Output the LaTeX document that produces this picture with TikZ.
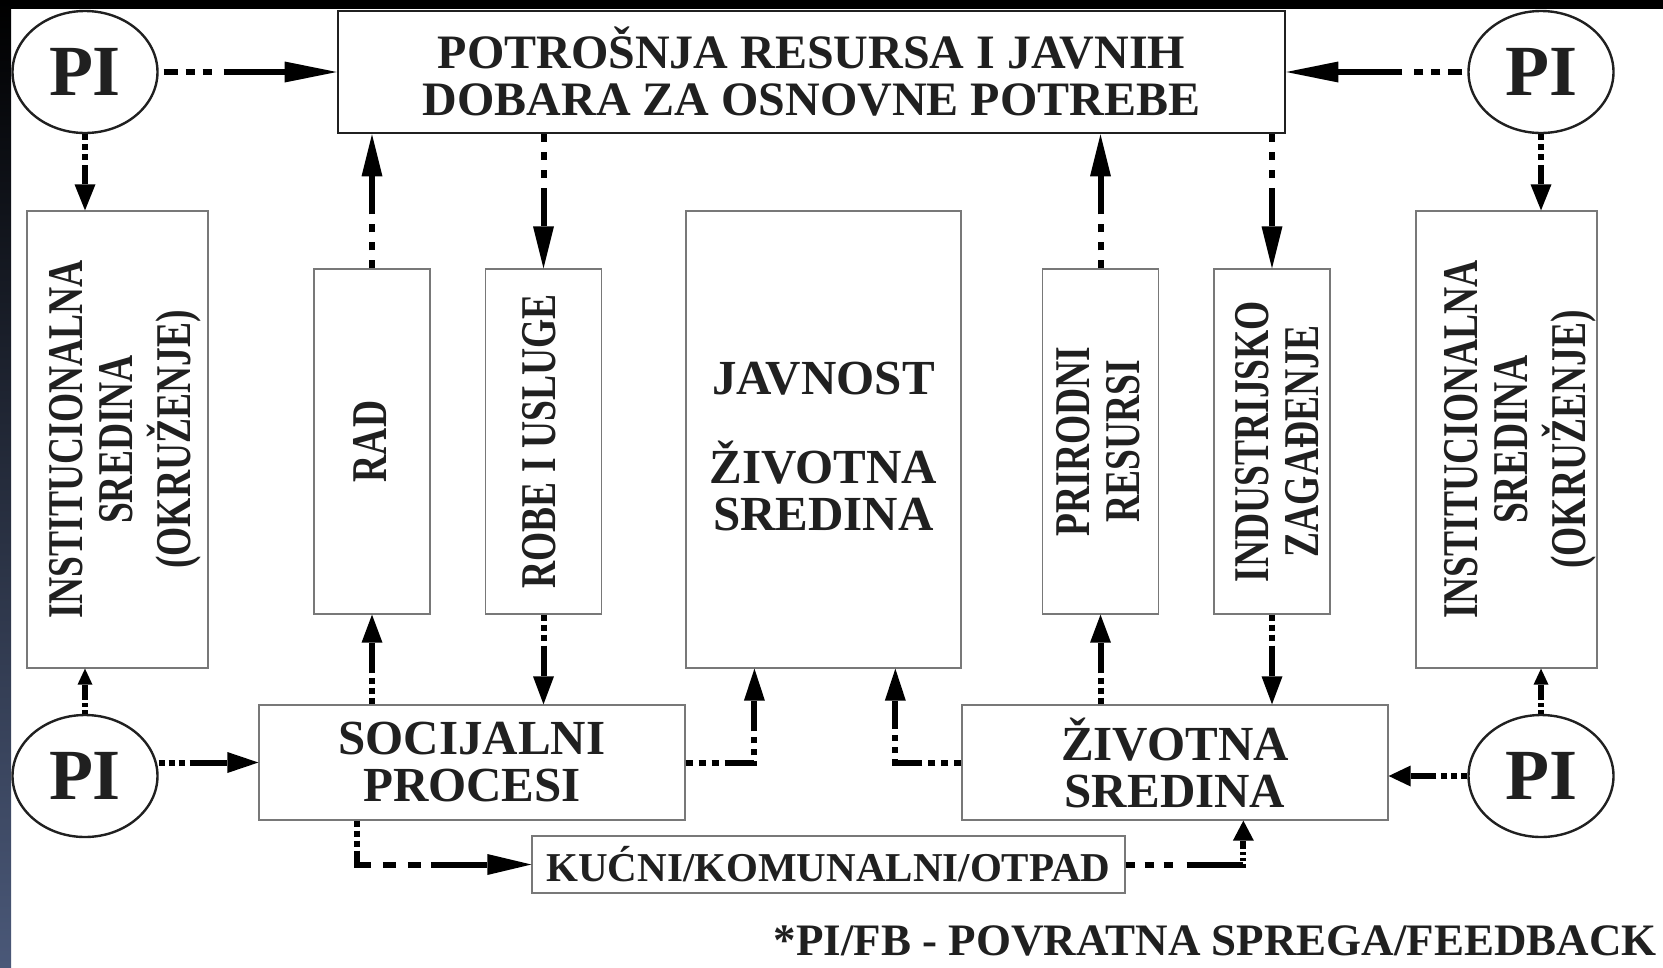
\documentclass[tikz,border=0pt]{standalone}
\usepackage{fontspec}
\setmainfont{Liberation Serif}
\usepackage{graphicx}
\usetikzlibrary{arrows.meta, shapes.geometric, calc}
\definecolor{ink}{RGB}{32, 32, 32}
\definecolor{boxline}{RGB}{120, 120, 120}
\definecolor{slate}{RGB}{74, 88, 120}

% rotated multi-line label, #1 = shift to the right in the picture
\newcommand{\vlabel}[2][6pt]{\rotatebox{90}{\raisebox{-#1}[\height][\depth]{%
  \scalebox{0.75}[1]{\begin{tabular}{@{}c@{}}#2\end{tabular}}}}}

\begin{document}
\begin{tikzpicture}[x=1pt, y=-1pt,
    every node/.style={inner sep=0pt, text=ink},
    box/.style args={#1x#2}{draw=boxline, line width=1.3pt, minimum width=#1pt, minimum height=#2pt},
    htext/.style={align=center, font=\bfseries\fontsize{49}{47}\selectfont},
    vtext/.style={font=\bfseries\fontsize{50}{50}\selectfont},
    pinode/.style={ellipse, draw=ink, line width=2.4pt, minimum width=145pt, minimum height=122pt,
      font=\bfseries\fontsize{72}{72}\selectfont},
    flow/.style={draw=black, line width=6pt, -{Triangle[length=#1, width=21pt, line width=0pt]}},
    flow/.default=28pt,
    stub/.style={dash pattern=on 4pt off 3pt on 4pt off 3pt on 2000pt,
      -{Triangle[length=16pt, width=15pt, line width=0pt]}},
    dotty/.style={dash pattern=on 6pt off 4pt on 6pt off 4pt on 6pt off 5pt on 2000pt},
    squary/.style={dash pattern=on 8pt off 10pt on 8pt off 10pt on 8pt off 10pt on 2000pt},
    dashy/.style={dash pattern=on 0pt off 5pt on 14pt off 8pt on 9pt off 8pt on 9pt off 12pt on 2000pt},
    elbow/.style={dash pattern=on 7pt off 6pt on 7pt off 6pt on 7pt off 6pt on 31pt
      off 6pt on 6pt off 6pt on 6pt off 6pt on 2000pt},
    wastein/.style={dash pattern=on 6pt off 4pt on 6pt off 4pt on 6pt off 4pt on 28pt
      off 12pt on 13pt off 12pt on 13pt off 10pt on 2000pt},
    wasteout/.style={dash pattern=on 9pt off 10pt on 9pt off 10pt on 9pt off 14pt on 57pt
      off 3pt on 3pt off 3pt on 3pt off 3pt on 2000pt},
  ]
  % frame of the slide
  \fill[white] (0,0) rectangle (1663,967);
  \fill[black] (0,0) rectangle (1663,8.5);
  \shade[top color=black, middle color=black, bottom color=slate] (0,0) rectangle (11,967);
  \useasboundingbox (0,0) rectangle (1663,967);

  \node[box=947x122, draw=ink, line width=2.6pt, htext, font=\bfseries\fontsize{48}{47}\selectfont]
    (potrosnja) at (811.5,72) {POTROŠNJA RESURSA I JAVNIH\\DOBARA ZA OSNOVNE POTREBE};

  \node[pinode] (pi-tl) at (85,72) {PI};
  \node[pinode] (pi-tr) at (1541,72) {PI};
  \node[pinode] (pi-bl) at (85,776) {PI};
  \node[pinode] (pi-br) at (1541,776) {PI};

  \node[box=181x457, vtext] (inst-l) at (117.5,439.5) {\vlabel[9pt]{INSTITUCIONALNA\\SREDINA\\(OKRUŽENJE)}};
  \node[box=116x345, vtext] (rad) at (372,441.5) {\vlabel[4pt]{RAD}};
  \node[box=116x345, vtext] (robe) at (543.5,441.5) {\vlabel[2pt]{ROBE I USLUGE}};
  \node[box=275x457, htext] (javnost) at (823.5,439.5) {\rule{0pt}{47pt}JAVNOST\\[42pt]ŽIVOTNA\\SREDINA};
  \node[box=116x345, vtext] (prirodni) at (1100.5,441.5) {\vlabel[4pt]{PRIRODNI\\RESURSI}};
  \node[box=116x345, vtext] (industrija) at (1272,441.5) {\vlabel[11pt]{INDUSTRIJSKO\\ZAGAĐENJE}};
  \node[box=181x457, vtext] (inst-r) at (1506.5,439.5) {\vlabel[15pt]{INSTITUCIONALNA\\SREDINA\\(OKRUŽENJE)}};

  \node[box=426x115, htext] (socijalni) at (472,762.5) {SOCIJALNI\\PROCESI};
  \node[box=426x115, htext] (sredina) at (1175,762.5) {ŽIVOTNA\\SREDINA};
  \node[box=593x57, font=\bfseries\fontsize{41}{41}\selectfont] (otpad) at (828.5,864.5) {KUĆNI/KOMUNALNI/OTPAD};
  \node[anchor=east, font=\bfseries\fontsize{45}{45}\selectfont] (fb) at (1657,941) {*PI/FB - POVRATNA SPREGA/FEEDBACK};

  % feedback into the top box
  \draw[flow=52pt, dashy] (pi-tl.east) -- (potrosnja.west);
  \draw[flow=52pt, dashy] (pi-tr.west) -- (potrosnja.east);
  \draw[flow=26pt, dotty] (pi-tl.south) -- (pi-tl.south |- inst-l.north);
  \draw[flow=26pt, dotty] (pi-tr.south) -- (pi-tr.south |- inst-r.north);

  % flows between the top box and the columns
  \draw[flow=42pt, squary] (rad.north) -- (rad.north |- potrosnja.south);
  \draw[flow=42pt, squary] (robe.north |- potrosnja.south) -- (robe.north);
  \draw[flow=42pt, squary] (prirodni.north) -- (prirodni.north |- potrosnja.south);
  \draw[flow=42pt, squary] (industrija.north |- potrosnja.south) -- (industrija.north);

  % flows between the columns and the bottom boxes
  \draw[flow, dotty] (socijalni.north -| rad.south) -- (rad.south);
  \draw[flow, dotty] (robe.south) -- (robe.south |- socijalni.north);
  \draw[flow, dotty] (sredina.north -| prirodni.south) -- (prirodni.south);
  \draw[flow, dotty] (industrija.south) -- (industrija.south |- sredina.north);

  \coordinate (jav-l) at ($(javnost.south west)!0.25!(javnost.south east)$);
  \coordinate (jav-r) at ($(javnost.south west)!0.76!(javnost.south east)$);
  \draw[flow=32pt, elbow] (socijalni.east) -| (jav-l);
  \draw[flow=32pt, elbow] (sredina.west) -| (jav-r);

  % waste
  \coordinate (soc-out) at ($(socijalni.south west)!0.23!(socijalni.south east)$);
  \coordinate (sred-in) at ($(sredina.south west)!0.66!(sredina.south east)$);
  \draw[flow=44pt, wastein] (soc-out) |- (otpad.west);
  \draw[flow=20pt, wasteout] (otpad.east) -| (sred-in);

  % feedback at the bottom
  \draw[flow, stub] (pi-bl.north) -- (pi-bl.north |- inst-l.south);
  \draw[flow, stub] (pi-br.north) -- (pi-br.north |- inst-r.south);
  \draw[flow=31pt, dotty] (pi-bl.east |- socijalni.west) -- (socijalni.west);
  \draw[flow=22pt, dotty] (pi-br.west) -- (pi-br.west -| sredina.east);
\end{tikzpicture}
\end{document}
